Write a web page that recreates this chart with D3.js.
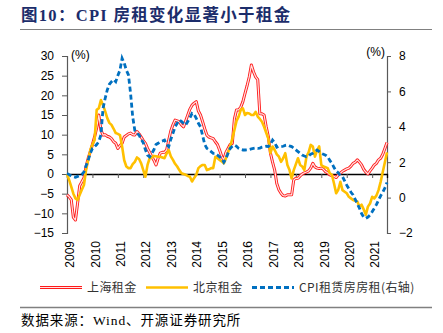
<!DOCTYPE html>
<html><head><meta charset="utf-8">
<script src="https://cdn.jsdelivr.net/npm/d3@7"></script>
<style>html,body{margin:0;padding:0;background:#fff;}svg{display:block;}</style>
</head><body>
<svg id="c" width="443" height="333"></svg>
<script>
const years = ["2009","2010","2011","2012","2013","2014","2015","2016","2017","2018","2019","2020","2021"];
const leftTicks = [-15,-10,-5,0,5,10,15,20,25,30];
const rightTicks = [-2,0,2,4,6,8];
// monthly, Jan 2009 .. Aug 2021
const shanghai = [-5.3,-5.8,-6.5,-11,-11.7,-7.4,-3,-2,-1,1.9,4,5.7,7.5,9.4,11.7,15,11.2,9.9,10,9.6,9.4,9,8.2,7.8,6.5,7.2,7.8,9.4,9.8,10.2,10.4,10,9.9,10.8,10.2,9.4,8.5,7.8,6.5,5.5,4.4,3.5,2.3,4,5.3,5.5,5.5,6.1,8.6,11,12.5,13.7,13.5,13.3,12.5,12,13.5,15,16.5,17.5,18,18.4,16,15,13.3,11.5,9.9,9.4,9.2,9,8.2,7.5,6.1,4.5,3.6,5.5,6.5,7.5,7.8,14,16.3,16.3,17,18.4,20.5,22.5,24.7,27.7,26,24.7,24,15.3,15.3,15,12,9.5,5.3,3,1,-2.4,-4,-4.9,-5.5,-5.6,-5.3,-5.3,-5.3,-1.5,-1.1,-1.1,-0.5,0,0.3,0.5,0.8,1.5,2.7,1.8,1.5,1.4,1.5,1.2,0.6,0.3,-0.2,-0.4,-0.6,-0.9,-0.2,0.2,0.7,1,1.3,1.5,2,2.7,3,3.6,3,2.3,1.2,0.5,0,0.8,1.5,2.3,2.7,3.6,4,5,6.5,8];
const beijing = [0,-1.5,-3.2,-5,-6.2,-6.6,-5.3,-4,-2.8,1,3.5,6.1,7.5,8.6,16.3,16.7,18.8,17.5,16,14.2,13,12.5,11.5,10.4,10.2,9.9,7,3.5,1.9,1.5,1.5,2.5,3.1,4.2,3.8,2.7,1,-0.7,2.3,4,4.2,4.6,4.5,4.4,4.4,4.2,4,5.2,6.1,4.5,3.6,2.6,1.9,1,0.2,0,-0.2,-0.5,-0.7,-1.9,-1,-0.2,1.5,2,2.3,2.3,1,1.2,1.5,1.5,4.4,4,3.6,3.2,2.7,4,5.5,7,9,11.2,13.5,14.6,16.3,16.7,15,15.5,15.4,15,15,15.8,14.6,14,13.3,12,10.5,9,5.3,7,6.1,5,4.4,3.1,4,5.3,2.3,1,-1.1,1,2.5,4,2.3,1.9,1,4.4,5.5,7.4,7,4.4,6,7,2.3,1.9,1.7,1.5,0.2,-0.2,-2.4,-4.9,-4,-2,-4.1,-4.5,-4.9,-5.8,-6.2,-6.6,-6.8,-7,-8.3,-7.8,-9,-10.4,-8.3,-7.5,-5.8,-6.2,-5.5,-4.1,-2,0.5,3,5.5];
const cpiRent = [1.37,1.3,1.22,1.18,1.15,1.2,1.25,1.3,1.46,1.8,2.12,2.5,2.78,2.87,3,3.16,3.54,5.04,5.6,6.08,6.4,6.55,6.67,6.55,6.9,7.2,7.87,7.6,7.2,6.93,5.89,4.57,3.8,3.63,3.54,3.3,3.1,2.7,2.4,2.3,2.5,2.7,3,3.07,3.16,3.2,3.25,3,2.88,3.3,3.63,4,4.2,4.38,4.3,4.2,4.1,4.3,4.5,4.76,4.7,4.48,4.2,4,3.5,3,2.78,2.7,2.6,2.5,2.5,2.4,2.3,2.22,2,2.2,2.5,2.78,2.9,2.97,2.9,2.78,2.72,2.69,2.69,2.7,2.72,2.75,2.78,2.8,2.78,2.8,2.85,2.88,2.9,2.88,3,3.25,3.1,2.85,2.9,2.88,2.9,2.95,2.97,2.92,2.88,2.8,2.7,2.6,2.5,2.4,2.35,2.31,2.35,2.45,2.5,2.6,2.69,2.6,2.5,2.45,2.4,2.31,2.1,1.94,1.7,1.5,1.4,1.25,1.18,0.95,0.7,0.5,0.3,0.15,-0.1,-0.35,-0.6,-0.9,-1.1,-1.17,-1.1,-0.98,-0.8,-0.6,-0.4,-0.15,0.1,0.3,0.55,0.85];
const seriesNames = ["上海租金","北京租金","CPI租赁房房租(右轴)"];

const svg = d3.select("#c");
const sans = "'Liberation Sans', Arial, 'Noto Sans CJK SC', sans-serif";
const cjk = "'Noto Sans CJK SC', sans-serif";

// Title
svg.append("text").attr("x",21).attr("y",21)
  .attr("font-family","'Liberation Serif', 'Noto Sans CJK SC', serif").attr("font-weight","bold")
  .attr("font-size",16.5).attr("letter-spacing",1.3).attr("fill","#1c2d6b").text("图10：CPI 房租变化显著小于租金");
svg.append("line").attr("x1",20).attr("x2",432).attr("y1",29.5).attr("y2",29.5)
  .attr("stroke","#808080").attr("stroke-width",1.2);

const x = d3.scaleLinear().domain([0,151]).range([67,387]);
const yL = d3.scaleLinear().domain([-15,30]).range([233,56]);
const yR = d3.scaleLinear().domain([-2,8]).range([233,56]);

// left axis
const gL = svg.append("g").attr("transform","translate(67,0)")
  .call(d3.axisLeft(yL).tickValues(leftTicks).tickSize(5).tickPadding(8));
gL.select(".domain").attr("stroke","#595959").attr("stroke-width",1.2);
gL.selectAll(".tick line").attr("stroke","#595959");
gL.selectAll("text").attr("font-family",sans).attr("font-size",12).attr("fill","#000");

const gR = svg.append("g").attr("transform","translate(387,0)")
  .call(d3.axisRight(yR).tickValues(rightTicks).tickSize(4).tickPadding(8));
gR.select(".domain").attr("stroke","#595959").attr("stroke-width",1.2);
gR.selectAll(".tick line").attr("stroke","#595959");
gR.selectAll("text").attr("font-family",sans).attr("font-size",12).attr("fill","#000");

// x axis at left zero
const gX = svg.append("g").attr("transform",`translate(0,${yL(0)})`)
  .call(d3.axisBottom(x).tickValues(years.map((d,i)=>i*12)).tickSize(4).tickFormat(""));
gX.select(".domain").attr("stroke","#000").attr("stroke-width",1.3);
gX.selectAll(".tick line").attr("stroke","#595959");

svg.append("g").selectAll("text").data(years).join("text")
  .attr("transform",(d,i)=>`translate(${x(i*12)+3},241) rotate(-90)`)
  .attr("text-anchor","end").attr("dy","0.35em")
  .attr("font-family",sans).attr("font-size",12).text(d=>d);

svg.append("text").attr("x",71).attr("y",59).attr("font-family",sans).attr("font-size",12).text("(%)");
svg.append("text").attr("x",385).attr("y",56).attr("text-anchor","end").attr("font-family",sans).attr("font-size",12).text("(%)");

// series
const lineL = d3.line().x((d,i)=>x(i)).y(d=>yL(d));
const lineR = d3.line().x((d,i)=>x(i)).y(d=>yR(d));
svg.append("path").attr("d",lineL(shanghai)).attr("fill","none").attr("stroke","#ff1a1a").attr("stroke-width",3).attr("stroke-linejoin","round");
svg.append("path").attr("d",lineL(shanghai)).attr("fill","none").attr("stroke","#ffe4e4").attr("stroke-width",1.2).attr("stroke-linejoin","round");
svg.append("path").attr("d",lineL(beijing)).attr("fill","none").attr("stroke","#ffc000").attr("stroke-width",2.6).attr("stroke-linejoin","round");
svg.append("path").attr("d",lineR(cpiRent)).attr("fill","none").attr("stroke","#0070c0").attr("stroke-width",2.8).attr("stroke-dasharray","5,3");

// legend
const lg = svg.append("g");
const lx = [40,146,252];
lg.append("line").attr("x1",lx[0]).attr("x2",lx[0]+42).attr("y1",287.5).attr("y2",287.5).attr("stroke","#ff1a1a").attr("stroke-width",3);
lg.append("line").attr("x1",lx[0]).attr("x2",lx[0]+42).attr("y1",287.5).attr("y2",287.5).attr("stroke","#ffe4e4").attr("stroke-width",1.2);
lg.append("line").attr("x1",lx[1]).attr("x2",lx[1]+42).attr("y1",287.5).attr("y2",287.5).attr("stroke","#ffc000").attr("stroke-width",2.6);
lg.append("line").attr("x1",lx[2]).attr("x2",lx[2]+42).attr("y1",287.5).attr("y2",287.5).attr("stroke","#0070c0").attr("stroke-width",2.8).attr("stroke-dasharray","5,3");
lg.selectAll("text").data(seriesNames).join("text")
  .attr("x",(d,i)=>lx[i]+47).attr("y",292)
  .attr("font-family",cjk).attr("font-size",12).attr("letter-spacing",0.4).attr("fill","#333").text(d=>d);

svg.append("line").attr("x1",20).attr("x2",432).attr("y1",307.5).attr("y2",307.5)
  .attr("stroke","#808080").attr("stroke-width",1.5);
svg.append("text").attr("x",21).attr("y",325)
  .attr("font-family","'Liberation Serif', 'Noto Sans CJK SC', serif").attr("font-size",13.5).attr("letter-spacing",0.9).attr("fill","#000")
  .text("数据来源：Wind、开源证券研究所");
</script>
</body></html>
